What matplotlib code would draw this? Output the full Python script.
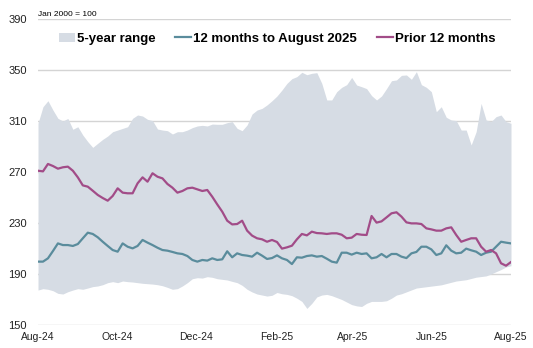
import matplotlib
matplotlib.use('Agg')
import matplotlib.pyplot as plt
import matplotlib.dates as mdates
import numpy as np
import pandas as pd

plt.rcParams['font.family'] = ['Liberation Sans', 'DejaVu Sans']

# Index, Jan 2000 = 100, sampled evenly from Aug-24 to Aug-25
dates = pd.date_range('2024-08-01', '2025-08-01', periods=96)

prior = [271.0, 270.5, 276.3, 274.7, 272.6, 273.7, 274.2, 271.0, 265.8, 259.5, 258.5, 255.3,
         252.0, 249.6, 247.5, 251.2, 257.2, 253.8, 253.3, 253.3, 261.1, 265.8, 262.4, 269.0,
         266.3, 265.0, 260.6, 257.7, 253.8, 255.1, 257.2, 257.7, 256.4, 255.1, 255.9, 250.6,
         244.6, 238.9, 231.8, 228.9, 229.2, 231.8, 224.0, 220.1, 218.0, 217.2, 215.3, 216.7,
         215.1, 209.9, 210.9, 212.2, 217.2, 221.4, 220.3, 223.2, 222.1, 221.9, 221.4, 221.9,
         221.9, 220.8, 218.0, 218.5, 221.4, 220.8, 220.6, 235.5, 230.3, 231.3, 234.4, 237.6,
         238.4, 235.0, 230.5, 229.7, 229.7, 229.2, 225.8, 225.0, 224.0, 224.0, 225.8, 226.6,
         220.6, 215.3, 216.7, 218.0, 218.0, 211.4, 207.5, 208.8, 206.2, 198.4, 196.5, 199.4]

recent = [199.7, 199.7, 202.3, 208.0, 214.0, 212.7, 212.7, 212.0, 213.5, 218.0, 222.4, 221.4,
          218.8, 215.3, 212.0, 208.8, 207.5, 214.0, 211.4, 210.1, 212.0, 216.7, 214.6, 212.7,
          210.6, 208.8, 208.3, 207.3, 206.2, 205.7, 204.1, 201.0, 199.7, 201.0, 200.5, 202.3,
          201.0, 201.5, 207.8, 203.1, 206.2, 204.9, 204.4, 203.6, 206.7, 204.4, 201.8, 202.5,
          204.6, 202.3, 201.0, 197.8, 203.1, 202.8, 204.1, 204.6, 203.6, 204.1, 202.0, 199.7,
          198.9, 206.7, 206.7, 205.2, 206.7, 205.7, 206.2, 202.3, 203.1, 205.7, 203.1, 205.7,
          205.7, 203.6, 202.5, 206.2, 207.3, 211.4, 211.4, 209.3, 204.9, 206.2, 212.5, 208.3,
          206.2, 206.7, 209.9, 208.6, 207.5, 204.9, 206.7, 207.5, 211.4, 215.3, 214.6, 214.0]

range_high = [308.2, 321.2, 325.9, 318.6, 312.1, 310.0, 312.0, 303.5, 305.5, 299.0, 293.8, 289.3,
              292.5, 295.6, 298.2, 301.6, 302.9, 304.2, 305.5, 312.1, 314.7, 313.9, 311.3, 310.3,
              303.7, 302.9, 302.4, 299.8, 301.6, 301.6, 302.9, 304.8, 306.1, 306.6, 306.1, 307.6,
              307.4, 307.4, 308.7, 309.5, 304.2, 302.4, 306.9, 315.5, 318.6, 319.9, 322.6, 325.9,
              329.6, 334.3, 339.5, 343.2, 344.8, 348.2, 346.3, 347.4, 347.9, 339.5, 326.5, 326.5,
              333.0, 336.4, 338.5, 344.2, 338.2, 336.9, 335.4, 329.9, 326.5, 329.6, 335.4, 341.6,
              342.2, 345.8, 346.1, 342.7, 348.7, 338.5, 336.4, 333.0, 317.3, 321.2, 312.9, 310.8,
              310.3, 302.9, 302.9, 291.2, 301.6, 323.8, 310.8, 309.5, 313.4, 314.7, 309.5, 308.2]

range_low = [177.4, 178.5, 178.0, 176.9, 174.8, 174.3, 176.1, 177.4, 178.5, 178.0, 179.0, 180.1,
             180.6, 181.6, 183.2, 184.0, 183.2, 184.5, 184.0, 183.7, 183.2, 182.7, 182.4, 182.1,
             181.6, 180.8, 179.5, 178.0, 178.5, 180.6, 183.2, 186.3, 187.1, 186.8, 187.9, 187.4,
             186.3, 185.8, 185.3, 184.2, 183.2, 181.1, 178.0, 175.9, 174.3, 173.5, 172.7, 173.3,
             175.5, 174.5, 174.0, 173.0, 171.0, 168.5, 163.0, 167.0, 172.0, 173.5, 174.0, 173.0,
             171.5, 170.0, 168.0, 166.0, 165.0, 164.5, 167.0, 168.5, 168.5, 168.5, 169.0, 171.0,
             173.5, 174.5, 176.0, 177.5, 179.0, 179.5, 180.0, 180.5, 181.0, 181.5, 182.5, 183.5,
             184.5, 185.0, 185.5, 186.5, 187.5, 188.0, 188.5, 190.0, 191.8, 193.5, 195.5, 196.5]

fill_col = '#d6dce4'
teal = '#5a8c9c'
purple = '#a24c88'

fig = plt.figure(figsize=(5.33, 3.48), dpi=100)
ax = fig.add_axes([38/533, 1 - 325/348, (511 - 38)/533, (325 - 19)/348])

ax.fill_between(dates, range_low, range_high, color=fill_col, lw=0, label='5-year range', zorder=1)
ax.plot(dates, recent, color=teal, lw=1.6, label='12 months to August 2025', zorder=3)
ax.plot(dates, prior, color=purple, lw=1.6, label='Prior 12 months', zorder=3)

ax.set_ylim(150, 390)
ax.set_yticks(range(150, 391, 40))
ax.set_xlim(dates[0], dates[-1])
ax.xaxis.set_major_locator(mdates.MonthLocator(bymonth=[2, 4, 6, 8, 10, 12]))
ax.xaxis.set_major_formatter(mdates.DateFormatter('%b-%y'))

ax.yaxis.grid(True, color='#d4d4d4', lw=1)
ax.set_axisbelow(True)
for s in ax.spines.values():
    s.set_visible(False)
ax.tick_params(length=0, labelsize=7.5, labelcolor='#222222')
ax.tick_params(axis='y', pad=8, labelsize=8)
ax.tick_params(axis='x', pad=5)

fig.text(38/533, 1 - 14/348, 'Jan 2000 = 100', fontsize=6, va='center', ha='left')

fig.legend(loc='center', bbox_to_anchor=(0.52, 1 - 39/348), ncol=3, frameon=False,
           prop={'weight': 'bold', 'size': 9.5}, handlelength=1.2, handletextpad=0.15,
           columnspacing=1.5, borderaxespad=0)

fig.savefig('out.png', dpi=100)
